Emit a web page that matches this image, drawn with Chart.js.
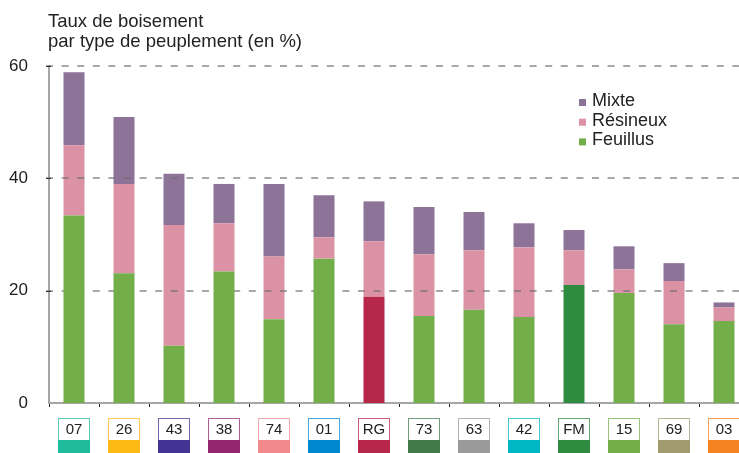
<!DOCTYPE html>
<html>
<head>
<meta charset="utf-8">
<script src="https://cdn.jsdelivr.net/npm/chart.js@4.4.1/dist/chart.umd.min.js"></script>
<style>
  html, body { margin: 0; padding: 0; background: #fff; overflow: hidden; }
  #wrap { width: 760px; height: 453px; }
</style>
</head>
<body>
<div id="wrap"><canvas id="chart" width="760" height="453"></canvas></div>
<script>
const labels   = ['07', '26', '43', '38', '74', '01', 'RG', '73', '63', '42', 'FM', '15', '69', '03'];
const feuillus = [33.4, 23.1, 10.2, 23.4, 14.9, 25.7, 18.9, 15.5, 16.6, 15.3, 21.0, 19.6, 14.0, 14.6];
const resineux = [12.5, 15.9, 21.5,  8.6, 11.2,  3.8,  9.9, 11.0, 10.6, 12.4,  6.2,  4.2,  7.7,  2.4];
const mixte    = [13.0, 11.9,  9.1,  7.0, 12.9,  7.5,  7.1,  8.4,  6.8,  4.3,  3.6,  4.1,  3.2,  0.9];
const yTicks   = [0, 20, 40, 60];
const titleLines = ['Taux de boisement', 'par type de peuplement (en %)'];

const labelColors = ['#1fbb9a', '#fdb913', '#433493', '#93276f', '#f28a8c', '#0088cf', '#b7274a',
                     '#427a4c', '#9a9a9a', '#00b6c4', '#2e8b40', '#74ae4a', '#a09c70', '#f58220'];

const GREEN = '#73ae4a', PINK = '#db92a4', PURPLE = '#8e7399';
// RG and FM get their own colour for the feuillus part
const feuillusColors = labels.map(l => l === 'RG' ? '#b7274a' : l === 'FM' ? '#2e8b40' : GREEN);

const FONT = '"Liberation Sans", Arial, sans-serif';

const decor = {
  id: 'decor',
  beforeDraw(chart) {
    const { ctx } = chart;
    const x = chart.scales.x;
    ctx.save();
    // title
    ctx.fillStyle = '#222';
    ctx.font = '18.5px ' + FONT;
    ctx.textBaseline = 'alphabetic';
    ctx.fillText(titleLines[0], 48, 27);
    ctx.fillText(titleLines[1], 48, 47);
    // coloured boxes under category labels
    labels.forEach((l, i) => {
      const cx = x.getPixelForValue(i);
      const c = labelColors[i];
      ctx.fillStyle = c;
      ctx.fillRect(cx - 16, 440, 32, 16);
      ctx.strokeStyle = c;
      ctx.globalAlpha = 0.75;
      ctx.lineWidth = 1;
      ctx.strokeRect(cx - 15.5, 418.5, 31, 22);
      ctx.globalAlpha = 1;
    });
    ctx.restore();
  },
  beforeDatasetDraw(chart, args) {
    // dashed grid goes over résineux/mixte but under feuillus
    if (args.index !== 0) return;
    const { ctx, chartArea } = chart;
    const y = chart.scales.y;
    ctx.save();
    ctx.strokeStyle = 'rgba(110,110,110,0.6)';
    ctx.lineWidth = 2;
    ctx.setLineDash([7, 8.6]);
    yTicks.forEach(v => {
      if (v === 0) return;
      const py = Math.round(y.getPixelForValue(v));
      ctx.beginPath();
      ctx.moveTo(chartArea.left - 3, py);
      ctx.lineTo(chartArea.right, py);
      ctx.stroke();
      // small dark tick on the axis
      ctx.setLineDash([]);
      ctx.strokeStyle = '#333';
      ctx.lineWidth = 1;
      ctx.beginPath();
      ctx.moveTo(chartArea.left - 3, py + 0.5);
      ctx.lineTo(chartArea.left + 2, py + 0.5);
      ctx.stroke();
      ctx.strokeStyle = 'rgba(110,110,110,0.6)';
      ctx.lineWidth = 2;
      ctx.setLineDash([7, 8.6]);
    });
    ctx.restore();
  },
  afterDraw(chart) {
    const { ctx } = chart;
    const items = [[PURPLE, 'Mixte'], [PINK, 'Résineux'], [GREEN, 'Feuillus']];
    ctx.save();
    ctx.font = '18px ' + FONT;
    ctx.textBaseline = 'alphabetic';
    items.forEach(([c, t], i) => {
      const by = 106 + i * 19.7;
      ctx.fillStyle = c;
      ctx.fillRect(579, by - 7, 7, 7);
      ctx.fillStyle = '#222';
      ctx.fillText(t, 592, by);
    });
    ctx.restore();
  }
};

new Chart(document.getElementById('chart'), {
  type: 'bar',
  data: {
    labels: labels,
    datasets: [
      { label: 'Feuillus', data: feuillus, backgroundColor: feuillusColors },
      { label: 'Résineux', data: resineux, backgroundColor: PINK },
      { label: 'Mixte',    data: mixte,    backgroundColor: PURPLE },
    ],
  },
  options: {
    responsive: false,
    animation: false,
    devicePixelRatio: 1,
    layout: { padding: { top: 66, right: 11, left: 0, bottom: 0 } },
    datasets: { bar: { barPercentage: 0.42, categoryPercentage: 1, borderWidth: 0 } },
    plugins: { legend: { display: false }, title: { display: false }, tooltip: { enabled: false } },
    scales: {
      x: {
        stacked: true,
        afterFit: s => { s.height = 50; },
        grid: { display: true, drawOnChartArea: false, drawTicks: true, tickLength: 4, tickColor: '#222', tickWidth: 1, offset: true },
        border: { display: true, color: '#a6a6a6', width: 2 },
        ticks: { color: '#222', font: { size: 15, family: FONT }, padding: 14, maxRotation: 0, autoSkip: false },
      },
      y: {
        stacked: true,
        min: 0,
        max: 60,
        afterFit: s => { s.width = 49; },
        afterBuildTicks: s => { s.ticks = yTicks.map(v => ({ value: v })); },
        grid: { display: false, drawTicks: false },
        border: { display: true, color: '#a6a6a6', width: 2 },
        ticks: { color: '#222', font: { size: 17, family: FONT }, padding: 21 },
      },
    },
  },
  plugins: [decor],
});
</script>
</body>
</html>
